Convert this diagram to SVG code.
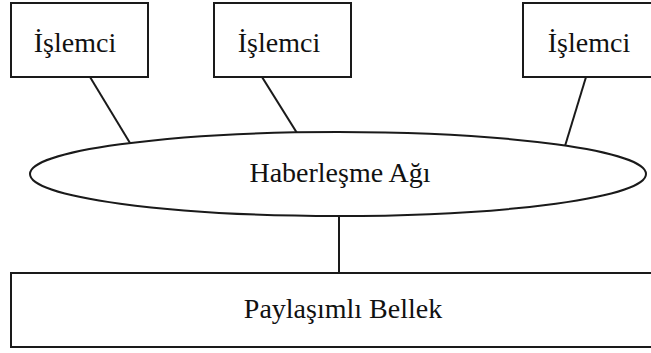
<svg xmlns="http://www.w3.org/2000/svg" width="651" height="353" viewBox="0 0 651 353">
<style>
.box{fill:#fff;stroke:#1a1a1a;stroke-width:2}
.ln{stroke:#1a1a1a;stroke-width:2;fill:none}
.t{font-family:"Liberation Serif","Times New Roman",serif;font-size:28px;fill:#111;text-anchor:middle}
</style>
<rect width="651" height="353" fill="#fff"/>
<g id="connectors">
<line class="ln" x1="90" y1="77" x2="130" y2="143"/>
<line class="ln" x1="262" y1="77" x2="297" y2="133"/>
<line class="ln" x1="586" y1="77" x2="565" y2="146"/>
<line class="ln" x1="339" y1="216" x2="339" y2="273"/>
</g>
<g id="cpu1">
<rect class="box" x="11" y="3" width="137" height="74"/>
<text class="t" x="75" y="52">İşlemci</text>
</g>
<g id="cpu2">
<rect class="box" x="214" y="3" width="137" height="74"/>
<text class="t" x="279" y="52">İşlemci</text>
</g>
<g id="cpu3">
<rect class="box" x="523" y="3" width="140" height="74"/>
<text class="t" x="589" y="52">İşlemci</text>
</g>
<g id="network">
<ellipse class="box" cx="338" cy="174" rx="308" ry="42"/>
<text class="t" x="340" y="182">Haberleşme Ağı</text>
</g>
<g id="memory">
<rect class="box" x="11" y="273" width="650" height="74"/>
<text class="t" x="343" y="318">Paylaşımlı Bellek</text>
</g>
</svg>
